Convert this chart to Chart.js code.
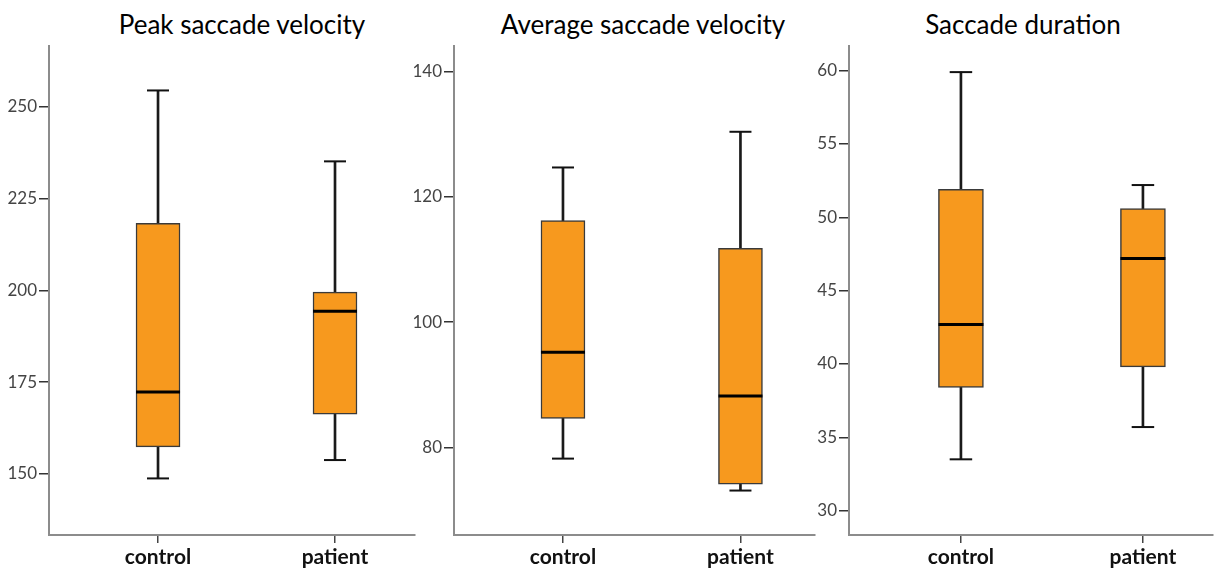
<!DOCTYPE html>
<html>
<head>
<meta charset="utf-8">
<script src="https://cdn.jsdelivr.net/npm/chart.js@4"></script>
<style>
    body { margin: 0; background: #fff; width: 1216px; height: 572px; position: relative; overflow: hidden; }
    canvas { position: absolute; top: 0; }
    .title { position: absolute; top: 11px; width: 400px; text-align: center; font-family: Lato, sans-serif; font-size: 26px; line-height: 26px; color: #000; }
</style>
</head>
<body>
<div class="title" style="left: 42px;">Peak saccade velocity</div>
<div class="title" style="left: 443px;">Average saccade velocity</div>
<div class="title" style="left: 823px;">Saccade duration</div>
<canvas id="peak" style="left: 0px;"></canvas>
<canvas id="avg" style="left: 410px;"></canvas>
<canvas id="dur" style="left: 810px;"></canvas>
<script>
const categories = ['control', 'patient'];

// Peak saccade velocity
const peakMin = [148.8, 153.8];
const peakQ1 = [157.4, 166.3];
const peakMedian = [172.3, 194.3];
const peakQ3 = [218.2, 199.5];
const peakMax = [254.4, 235.1];
const peakTicks = [150, 175, 200, 225, 250];

// Average saccade velocity
const avgMin = [78.2, 73.1];
const avgQ1 = [84.6, 74.1];
const avgMedian = [95.2, 88.2];
const avgQ3 = [116.2, 111.8];
const avgMax = [124.7, 130.4];
const avgTicks = [80, 100, 120, 140];

// Saccade duration
const durMin = [33.5, 35.7];
const durQ1 = [38.4, 39.8];
const durMedian = [42.7, 47.2];
const durQ3 = [51.9, 50.6];
const durMax = [59.9, 52.2];
const durTicks = [30, 35, 40, 45, 50, 55, 60];

const boxColor = '#F7991E';

function makePanel(id, p) {
    const canvas = document.getElementById(id);
    canvas.width = p.width;
    canvas.height = 572;
    canvas.style.width = p.width + 'px';
    canvas.style.height = '572px';

    const whisker = categories.map((c, i) => ({ x: i, y: [p.min[i], p.max[i]] }));
    const box = categories.map((c, i) => ({ x: i, y: [p.q1[i], p.q3[i]] }));
    const caps = [];
    categories.forEach((c, i) => {
        caps.push({ x: i, y: p.min[i] });
        caps.push({ x: i, y: p.max[i] });
    });
    const medians = categories.map((c, i) => ({ x: i, y: p.median[i] }));

    return new Chart(canvas, {
        type: 'bar',
        data: {
            datasets: [{
                type: 'bar',
                data: whisker,
                barThickness: 2,
                backgroundColor: '#1a1a1a',
                borderWidth: 0,
                grouped: false,
                order: 3
            }, {
                type: 'bar',
                data: box,
                barThickness: p.boxWidth,
                backgroundColor: boxColor,
                borderColor: '#3a3a3a',
                borderWidth: 1.5,
                borderSkipped: false,
                grouped: false,
                order: 2
            }, {
                type: 'scatter',
                data: caps,
                pointStyle: 'line',
                radius: p.boxWidth / 4,
                hoverRadius: p.boxWidth / 4,
                borderColor: '#111',
                borderWidth: 2,
                order: 1
            }, {
                type: 'scatter',
                data: medians,
                pointStyle: 'line',
                radius: p.boxWidth / 2,
                hoverRadius: p.boxWidth / 2,
                borderColor: '#000',
                borderWidth: 3,
                order: 0
            }]
        },
        options: {
            responsive: false,
            animation: false,
            events: [],
            layout: {
                autoPadding: false,
                padding: { top: 46, right: p.padRight, left: 0, bottom: 0 }
            },
            plugins: {
                legend: { display: false },
                tooltip: { enabled: false }
            },
            scales: {
                x: {
                    type: 'linear',
                    min: p.xMin,
                    max: p.xMax,
                    offset: false,
                    afterBuildTicks: (scale) => { scale.ticks = categories.map((c, i) => ({ value: i })); },
                    afterFit: (scale) => {
                        scale.height = 37;
                        scale.paddingLeft = 0;
                        scale.paddingRight = 0;
                    },
                    border: { color: '#8c8c8c', width: 2 },
                    grid: { offset: false, drawOnChartArea: false, color: '#444', lineWidth: 1.5, tickLength: 8 },
                    ticks: {
                        callback: (v) => categories[v],
                        color: '#111',
                        padding: 2,
                        maxRotation: 0,
                        font: { family: 'Lato', size: 21, weight: 'bold' }
                    }
                },
                y: {
                    min: p.yMin,
                    max: p.yMax,
                    afterBuildTicks: (scale) => { scale.ticks = p.ticks.map(v => ({ value: v })); },
                    afterFit: (scale) => {
                        scale.width = p.axisLeft;
                        scale.paddingTop = 0;
                        scale.paddingBottom = 0;
                    },
                    border: { color: '#8c8c8c', width: 2 },
                    grid: { drawOnChartArea: false, color: '#333', lineWidth: 1.5, tickLength: 10 },
                    ticks: {
                        color: '#444',
                        padding: 2,
                        font: { family: 'Lato', size: 17 }
                    }
                }
            }
        }
    });
}

makePanel('peak', {
    width: 420, axisLeft: 49, padRight: 5, boxWidth: 44,
    xMin: -0.616, xMax: 1.452, yMin: 133.4, yMax: 266.5,
    min: peakMin, q1: peakQ1, median: peakMedian, q3: peakQ3, max: peakMax, ticks: peakTicks
});

makePanel('avg', {
    width: 410, axisLeft: 44, padRight: 5, boxWidth: 44,
    xMin: -0.614, xMax: 1.42, yMin: 66.0, yMax: 144.1,
    min: avgMin, q1: avgQ1, median: avgMedian, q3: avgQ3, max: avgMax, ticks: avgTicks
});

makePanel('dur', {
    width: 406, axisLeft: 39, padRight: 3, boxWidth: 45,
    xMin: -0.615, xMax: 1.385, yMin: 28.34, yMax: 61.68,
    min: durMin, q1: durQ1, median: durMedian, q3: durQ3, max: durMax, ticks: durTicks
});
</script>
</body>
</html>
